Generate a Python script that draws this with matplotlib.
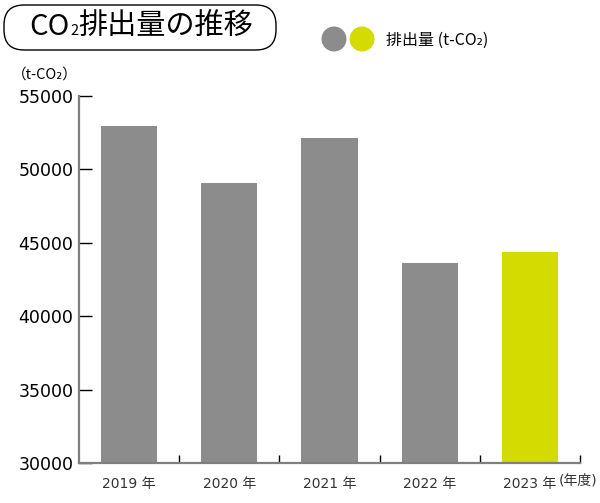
import matplotlib
matplotlib.use("Agg")
from matplotlib import pyplot as plt
from matplotlib.patches import FancyBboxPatch, Circle

plt.rcParams['font.family'] = ['DejaVu Sans', 'Noto Sans CJK JP']

years = ["2019 年", "2020 年", "2021 年", "2022 年", "2023 年"]
emissions = [52950, 49080, 52140, 43620, 44380]
bar_colors = ["#8c8c8c", "#8c8c8c", "#8c8c8c", "#8c8c8c", "#d4db00"]
yticks = [30000, 35000, 40000, 45000, 50000, 55000]

W, H = 600, 503
fig = plt.figure(figsize=(6, 5.03), dpi=100)
ax = fig.add_axes([79 / W, 1 - 463 / H, 501 / W, 367 / H])

def px(x, y):
    return x / W, 1 - y / H

def inch(x, y):
    # pixel (from top-left) -> inches for dpi_scale_trans
    return x / 100, (H - y) / 100

pos = list(range(len(years)))
ax.bar(pos, emissions, width=0.56, color=bar_colors, zorder=2)
ax.set_xlim(-0.5, len(years) - 0.5)
ax.set_ylim(30000, 55000)

ax.set_yticks(yticks)
ax.set_yticklabels([str(v) for v in yticks], fontsize=12.5)
ax.tick_params(axis='y', direction='in', length=9, width=1, color='black', pad=4)

ax.set_xticks(pos)
ax.set_xticklabels(years, fontsize=10, color='#333333')
ax.tick_params(axis='x', which='major', length=0, pad=10)
ax.set_xticks([p + 0.5 for p in pos], minor=True)
ax.tick_params(axis='x', which='minor', direction='in', length=6, width=1, color='black')

for s in ['top', 'right']:
    ax.spines[s].set_visible(False)
for s in ['left', 'bottom']:
    ax.spines[s].set_color('#7f7f7f')
    ax.spines[s].set_linewidth(1.6)

# year unit at right end
fig.text(*px(559, 481), "(年度)", fontsize=10, color='#333333', va='center', ha='left')

# unit label
fig.text(*px(12, 75), "（t-CO₂）", fontsize=10.5, va='center', ha='left',
         family=['Noto Sans CJK JP', 'DejaVu Sans'])

# title box
box = FancyBboxPatch(inch(4, 50), 2.72, 0.45, boxstyle="round,pad=0,rounding_size=0.2",
                     transform=fig.dpi_scale_trans, facecolor='white', edgecolor='black',
                     linewidth=1)
fig.patches.append(box)
fig.text(*px(29, 27), "CO", fontsize=21, va='center', ha='left',
         family=['Noto Sans CJK JP'])
fig.text(*px(70, 35), "2", fontsize=10.5, va='baseline', ha='left',
         family=['Noto Sans CJK JP'])
fig.text(*px(78, 27), "排出量の推移", fontsize=21, va='center', ha='left',
         family=['Noto Sans CJK JP'])

# legend
for cx, c in [(334, "#8c8c8c"), (362, "#d4db00")]:
    fig.patches.append(Circle(inch(cx, 39), 0.125, transform=fig.dpi_scale_trans,
                              facecolor=c, edgecolor='none'))
fig.text(*px(386, 40), "排出量 (t-CO₂)", fontsize=11.5, va='center', ha='left',
         family=['Noto Sans CJK JP', 'DejaVu Sans'])

fig.savefig("out.png", dpi=100)
